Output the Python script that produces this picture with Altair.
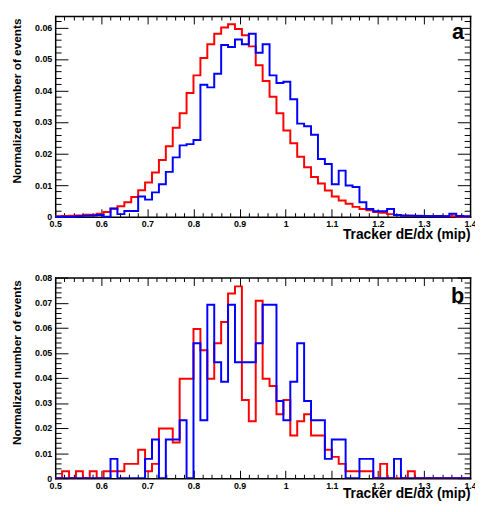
import altair as alt
import pandas as pd

# ---------------- data (normalized histogram contents, 60 bins of 0.015 from 0.5 to 1.4)
x_min, x_max = 0.5, 1.4
bin_width = 0.015
n_bins = 60

red_a = [0.0001, 0.0002, 0.0003, 0.0004, 0.0006, 0.0006, 0.0009, 0.0015, 0.0025, 0.0033,
         0.0046, 0.0062, 0.0084, 0.0108, 0.0140, 0.0180, 0.0223, 0.0282, 0.0328, 0.0392,
         0.0448, 0.0503, 0.0547, 0.0580, 0.0600, 0.0610, 0.0595, 0.0575, 0.0540, 0.0480,
         0.0430, 0.0380, 0.0328, 0.0273, 0.0233, 0.0190, 0.0157, 0.0126, 0.0105, 0.0083,
         0.0064, 0.0051, 0.0041, 0.0031, 0.0024, 0.0020, 0.0015, 0.0012, 0.0008, 0.0005,
         0.0004, 0.0003, 0.0003, 0.0002, 0.0002, 0.0001, 0.0001, 0.0001, 0.0000, 0.0000]

blue_a = [0.0000, 0.0000, 0.0000, 0.0001, 0.0003, 0.0004, 0.0005, 0.0000, 0.0026, 0.0008,
          0.0018, 0.0018, 0.0064, 0.0054, 0.0077, 0.0103, 0.0142, 0.0188, 0.0226, 0.0230,
          0.0243, 0.0418, 0.0410, 0.0453, 0.0544, 0.0538, 0.0562, 0.0547, 0.0580, 0.0520,
          0.0547, 0.0448, 0.0424, 0.0428, 0.0372, 0.0295, 0.0287, 0.0260, 0.0183, 0.0167,
          0.0103, 0.0146, 0.0099, 0.0094, 0.0046, 0.0024, 0.0017, 0.0017, 0.0024, 0.0005,
          0.0003, 0.0003, 0.0002, 0.0002, 0.0001, 0.0002, 0.0001, 0.0009, 0.0002, 0.0001]

red_b = [0.0000, 0.0028, 0.0000, 0.0028, 0.0000, 0.0028, 0.0000, 0.0028, 0.0028, 0.0028,
         0.0057, 0.0057, 0.0113, 0.0028, 0.0057, 0.0198, 0.0198, 0.0142, 0.0397, 0.0397,
         0.0595, 0.0510, 0.0397, 0.0538, 0.0623, 0.0737, 0.0765, 0.0312, 0.0227, 0.0708,
         0.0397, 0.0368, 0.0255, 0.0312, 0.0170, 0.0227, 0.0255, 0.0170, 0.0170, 0.0113,
         0.0085, 0.0057, 0.0028, 0.0028, 0.0028, 0.0028, 0.0000, 0.0057, 0.0000, 0.0000,
         0.0000, 0.0028, 0.0000, 0.0000, 0.0000, 0.0000, 0.0000, 0.0000, 0.0000, 0.0000]

blue_b = [0.0000, 0.0000, 0.0000, 0.0000, 0.0000, 0.0000, 0.0000, 0.0000, 0.0077, 0.0000,
          0.0000, 0.0000, 0.0000, 0.0077, 0.0154, 0.0000, 0.0154, 0.0154, 0.0231, 0.0000,
          0.0538, 0.0231, 0.0692, 0.0462, 0.0385, 0.0692, 0.0462, 0.0462, 0.0462, 0.0538,
          0.0692, 0.0692, 0.0308, 0.0231, 0.0385, 0.0538, 0.0308, 0.0231, 0.0231, 0.0077,
          0.0154, 0.0154, 0.0000, 0.0000, 0.0077, 0.0077, 0.0000, 0.0000, 0.0000, 0.0077,
          0.0000, 0.0000, 0.0000, 0.0000, 0.0000, 0.0000, 0.0000, 0.0000, 0.0000, 0.0000]

x_title = "Tracker dE/dx (mip)"
y_title = "Normalized number of events"
panel_letters = ["a", "b"]
y_max = [0.0636, 0.08]
letter_pos = [(1.387, 0.0563), (1.387, 0.0699)]

x_ticks = [round(0.5 + 0.02 * k, 3) for k in range(46)]
y_ticks_a = [round(0.002 * k, 4) for k in range(32)]
y_ticks_b = [round(0.002 * k, 4) for k in range(41)]

# ---------------- layout (pixels inside the single plotting area)
W = 422            # frame width
PH = 204           # height of each panel frame
GAP = 62           # gap between the two frames
HT = 2 * PH + GAP  # total plotting height
A_TOP, A_BOT = 0, PH
B_TOP, B_BOT = PH + GAP, HT

edges = [round(x_min + bin_width * i, 4) for i in range(n_bins + 1)]


def hist_df(vals):
    return pd.DataFrame({"x": edges, "y": list(vals) + [vals[-1]]})


X_MAJOR = "abs(datum.value*10 - round(datum.value*10)) < 1e-6"
Y_MAJOR = "abs(datum.value*100 - round(datum.value*100)) < 1e-6"
X_TICK = {"condition": {"test": X_MAJOR, "value": 8}, "value": 4}
Y_TICK = {"condition": {"test": Y_MAJOR, "value": 13}, "value": 6}

common = dict(domain=True, domainColor="black", domainWidth=1.5, domainCap="square",
              grid=False)


def panel_layers(red, blue, ymax, yticks, letter, lpos, top, bot, xtitle_y):
    xs = alt.Scale(domain=[x_min, x_max], nice=False, zero=False)
    ys = alt.Scale(domain=[0, ymax], range=[bot, top], nice=False, zero=True)

    # bottom edge: labelled, ticks pointing inward
    ax_bottom = alt.Axis(
        orient="top", offset=-bot, values=x_ticks, tickSize=X_TICK,
        labelExpr=f"{X_MAJOR} ? format(datum.value, '~g') : ''",
        labelPadding=-11, labelBaseline="top", labelFlush=False, labelOverlap=False,
        title=x_title, titleX=W, titleY=xtitle_y, titleAlign="right",
        titleBaseline="alphabetic", titleAngle=0, titleFontSize=14, **common,
    )
    # left edge: labelled, ticks pointing inward
    ax_left = alt.Axis(
        orient="right", offset=-W, values=yticks, tickSize=Y_TICK,
        labelExpr=f"{Y_MAJOR} ? format(datum.value, '~g') : ''",
        labelPadding=-16.5, labelAlign="right", labelBaseline="middle",
        labelFlush=False, labelOverlap=False,
        title=y_title, titleAngle=270, titleX=-39, titleY=top + 2,
        titleAlign="right", titleBaseline="middle", titleFontSize=12, **common,
    )
    # top edge and right edge: ticks only
    ax_top = alt.Axis(
        orient="bottom", offset=-(HT - top), values=x_ticks, tickSize=X_TICK,
        labels=False, title=None, **common,
    )
    ax_right = alt.Axis(
        orient="left", offset=-W, values=yticks, tickSize=Y_TICK,
        labels=False, title=None, **common,
    )

    red_layer = alt.Chart(hist_df(red)).mark_line(
        interpolate="step-after", color="#ff0000", strokeWidth=2, clip=True
    ).encode(
        x=alt.X("x:Q", scale=xs, axis=ax_bottom),
        y=alt.Y("y:Q", scale=ys, axis=ax_left),
    )
    blue_layer = alt.Chart(hist_df(blue)).mark_line(
        interpolate="step-after", color="#0000ff", strokeWidth=2, clip=True
    ).encode(
        x=alt.X("x:Q", scale=xs, axis=ax_top),
        y=alt.Y("y:Q", scale=ys, axis=ax_right),
    )
    text_layer = alt.Chart(
        pd.DataFrame({"x": [lpos[0]], "y": [lpos[1]], "t": [letter]})
    ).mark_text(
        align="right", baseline="alphabetic", fontSize=22, fontWeight="bold",
        font="Liberation Sans", color="black"
    ).encode(
        x=alt.X("x:Q", scale=xs, axis=None),
        y=alt.Y("y:Q", scale=ys, axis=None),
        text="t:N",
    )
    return [red_layer, blue_layer, text_layer]


layers = (
    panel_layers(red_a, blue_a, y_max[0], y_ticks_a, panel_letters[0], letter_pos[0],
                 A_TOP, A_BOT, 22)
    + panel_layers(red_b, blue_b, y_max[1], y_ticks_b, panel_letters[1], letter_pos[1],
                   B_TOP, B_BOT, 20)
)

chart = alt.layer(*layers).resolve_scale(
    x="independent", y="independent"
).resolve_axis(
    x="independent", y="independent"
).properties(
    width=W, height=HT,
    autosize=alt.AutoSizeParams(type="none"),
    padding={"left": 48, "top": 4, "right": 5, "bottom": 20},
    background="white",
).configure_view(
    stroke=None
).configure_axis(
    labelFont="Liberation Sans", labelFontWeight="bold", labelFontSize=9,
    labelColor="black", titleFont="Liberation Sans", titleFontWeight="bold",
    titleFontSize=13, titleColor="black", tickColor="black", tickWidth=1,
)

chart.save("out.html", embed_options={"renderer": "svg", "actions": False})
